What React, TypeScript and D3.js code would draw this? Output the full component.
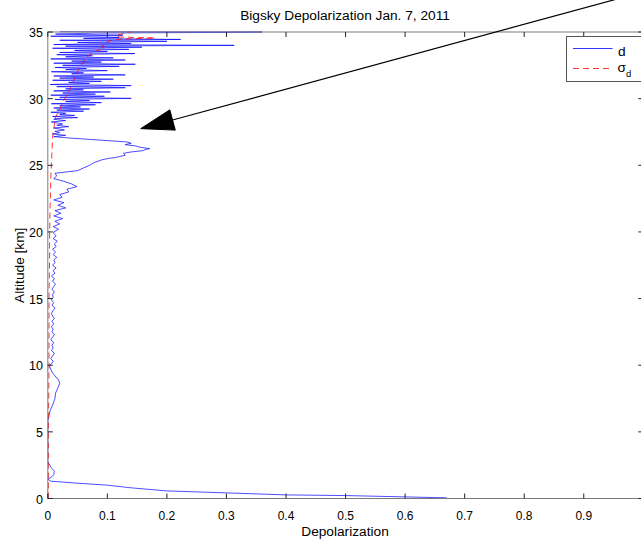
import React from "react";
import * as d3 from "d3";

const W = 641;
const H = 539;

const title = "Bigsky Depolarization Jan. 7, 2011";
const xLabel = "Depolarization";
const yLabel = "Altitude [km]";
const xTicks = [0, 0.1, 0.2, 0.3, 0.4, 0.5, 0.6, 0.7, 0.8, 0.9];
const xTickLabels = ["0", "0.1", "0.2", "0.3", "0.4", "0.5", "0.6", "0.7", "0.8", "0.9"];
const yTicks = [0, 5, 10, 15, 20, 25, 30, 35];
const legendLabels = ["d", "σ"];

// Blue profile d: altitude (km)
const dAlt = [
  0.05, 0.12, 0.22, 0.27, 0.42, 0.57, 0.8, 1.0, 1.15, 1.3, 1.45, 1.6, 1.8, 2.05, 2.3, 2.6, 2.8, 4.0, 5.8,
  6.2, 6.6, 7.0, 7.5, 7.9, 8.3, 8.65, 8.9, 9.2, 9.5, 9.8, 10.0,
  10.1, 10.3, 10.5, 10.7, 10.9, 11.1, 11.3, 11.5, 11.7, 11.9, 12.1, 12.3, 12.5, 12.7, 12.9, 13.1, 13.3, 13.5, 13.7, 13.9,
  14.1, 14.3, 14.5, 14.7, 14.9, 15.1, 15.3, 15.5, 15.7, 15.9, 16.1, 16.3, 16.5, 16.7, 16.9, 17.1, 17.3, 17.5, 17.7, 17.9,
  18.1, 18.3, 18.5, 18.7, 18.9, 19.1, 19.3, 19.5, 19.7, 19.9,
  20.0, 20.2, 20.4, 20.6, 20.8, 21.0, 21.2, 21.4, 21.6, 21.8, 22.0, 22.2, 22.4, 22.6, 22.8, 23.0, 23.2, 23.4, 23.6, 23.8, 24.0, 24.2, 24.4,
  24.6, 24.8, 25.0, 25.2, 25.4, 25.5, 25.6, 25.75, 25.9, 26.0, 26.1, 26.2, 26.25, 26.35, 26.45, 26.55, 26.65, 26.75,
  27.05, 27.15, 27.25, 27.35, 27.45, 27.55, 27.65, 27.8, 27.9, 28.0, 28.1, 28.25, 28.35, 28.45,
  28.5, 28.58, 28.66, 28.74, 28.82, 28.9, 28.98, 29.06, 29.14, 29.22, 29.3, 29.38, 29.46, 29.54, 29.62, 29.7, 29.78, 29.86, 29.94,
  30.02, 30.1, 30.18, 30.26, 30.34, 30.42, 30.5, 30.58, 30.66, 30.74, 30.82, 30.9, 30.98, 31.06, 31.14, 31.22, 31.3, 31.38, 31.46,
  31.54, 31.62, 31.7, 31.78, 31.86, 31.94, 32.02, 32.1, 32.18, 32.26, 32.34, 32.42, 32.5, 32.58, 32.66, 32.74, 32.82, 32.9, 32.98,
  33.06, 33.14, 33.22, 33.3, 33.38, 33.46, 33.54, 33.62, 33.7, 33.78, 33.86, 33.94, 34.0, 34.06, 34.14, 34.22, 34.3, 34.38, 34.44,
  34.52, 34.6, 34.68, 34.76, 34.84, 34.92, 34.97, 35.0, 35.02,
];
// Blue profile d: depolarization
const dVal = [
  0.67, 0.6, 0.5, 0.4, 0.3, 0.2, 0.14, 0.1, 0.05, 0.005, 0.0, 0.006, 0.01, 0.011, 0.006, 0.002, 0.0, 0.0, 0.0,
  0.002, 0.004, 0.008, 0.012, 0.013, 0.017, 0.02, 0.018, 0.012, 0.007, 0.004, 0.003,
  0.006, 0.009, 0.005, 0.008, 0.011, 0.006, 0.009, 0.007, 0.01, 0.005, 0.008, 0.011, 0.007, 0.009, 0.006, 0.01, 0.007, 0.011, 0.008, 0.006,
  0.009, 0.012, 0.007, 0.01, 0.006, 0.009, 0.008, 0.011, 0.007, 0.01, 0.013, 0.008, 0.011, 0.006, 0.012, 0.009, 0.014, 0.008, 0.012, 0.01,
  0.015, 0.009, 0.013, 0.008, 0.014, 0.011, 0.016, 0.009, 0.014, 0.01,
  0.01, 0.018, 0.009, 0.02, 0.012, 0.025, 0.01, 0.022, 0.012, 0.03, 0.017, 0.027, 0.01, 0.024, 0.02, 0.035, 0.032, 0.049, 0.04, 0.027, 0.01, 0.015, 0.012,
  0.05, 0.06, 0.07, 0.078, 0.09, 0.1, 0.115, 0.13, 0.127, 0.14, 0.16, 0.165, 0.171, 0.155, 0.148, 0.13, 0.14, 0.133,
  0.035, 0.01, 0.03, 0.008, 0.02, 0.012, 0.028, 0.01, 0.035, 0.015, 0.025, 0.006, 0.03, 0.01,
  0.012, 0.05, 0.008, 0.045, 0.02, 0.03, 0.005, 0.06, 0.015, 0.07, 0.01, 0.055, 0.02, 0.08, 0.006, 0.09, 0.03, 0.07, 0.012,
  0.14, 0.02, 0.095, 0.005, 0.08, 0.025, 0.105, 0.01, 0.06, 0.03, 0.13, 0.015, 0.14, 0.004, 0.07, 0.035, 0.09, 0.008, 0.11,
  0.02, 0.077, 0.01, 0.13, 0.04, 0.06, 0.006, 0.1, 0.03, 0.065, 0.012, 0.12, 0.025, 0.147, 0.01, 0.09, 0.04, 0.13, 0.005,
  0.11, 0.03, 0.075, 0.015, 0.146, 0.02, 0.1, 0.045, 0.136, 0.008, 0.158, 0.03, 0.313, 0.01, 0.14, 0.05, 0.2, 0.02, 0.223,
  0.06, 0.12, 0.005, 0.126, 0.013, 0.08, 0.29, 0.36, 0.02,
];

// Red sigma_d
const sAlt = [
  0, 2, 5, 10, 15, 18, 20, 22, 24, 25, 26, 27, 27.5, 28, 28.6, 29.2, 29.8, 30.2, 30.8, 31.4, 32.1, 32.5, 32.9,
  33.3, 33.6, 33.75, 33.9, 34.1, 34.3, 34.45, 34.55, 34.62, 34.75, 34.85, 34.95, 35.0,
];
const sVal = [
  0.001, 0.001, 0.001, 0.002, 0.002, 0.003, 0.003, 0.004, 0.005, 0.006, 0.007, 0.008, 0.009, 0.011, 0.013, 0.02, 0.026, 0.031, 0.038, 0.044, 0.051, 0.056, 0.062,
  0.07, 0.082, 0.095, 0.09, 0.098, 0.1, 0.115, 0.18, 0.12, 0.115, 0.125, 0.13, 0.14,
];

// Annotation arrow (data units)
const arrowTip = { x: 0.156, y: 27.75 };
const arrowTail = { x: 1.032, y: 38.4 };

export default function App() {
  const x = d3.scaleLinear().domain([0, 1]).range([47.8, 643.3]);
  const y = d3.scaleLinear().domain([0, 35]).range([498.5, 32]);
  const x0 = x(0), x1 = x(1), y0 = y(0), y1 = y(35);

  const line = d3
    .line<[number, number]>()
    .x((d) => x(d[1]))
    .y((d) => y(d[0]));

  const dPts: [number, number][] = dAlt.map((a, i) => [a, dVal[i]]);
  const sPts: [number, number][] = sAlt.map((a, i) => [a, sVal[i]]);

  // arrow
  const tx = x(arrowTip.x), ty = y(arrowTip.y);
  const ex = x(arrowTail.x), ey = y(arrowTail.y);
  const len = Math.hypot(ex - tx, ey - ty);
  const ux = (ex - tx) / len, uy = (ey - ty) / len;
  const hl = 33, hw = 10.5;
  const bx = tx + ux * hl, by = ty + uy * hl;
  const head = [
    [tx, ty],
    [bx - uy * hw, by + ux * hw],
    [bx + uy * hw, by - ux * hw],
  ]
    .map((p) => p.join(","))
    .join(" ");

  const font = "'Liberation Sans', Arial, Helvetica, sans-serif";
  const tickLen = 5;
  const xTickAll = [...xTicks, 1.0];

  return (
    <svg
      width={W}
      height={H}
      style={{ position: "absolute", left: 0, top: 0, background: "#fff" }}
      fontFamily={font}
    >
      <rect x={0} y={0} width={W} height={H} fill="#fff" />
      <defs>
        <clipPath id="plotclip">
          <rect x={x0} y={y1 - 1} width={x1 - x0} height={y0 - y1 + 1} />
        </clipPath>
      </defs>

      {/* data */}
      <g clipPath="url(#plotclip)">
        <path d={line(dPts) || ""} fill="none" stroke="#0000ff" strokeWidth={0.7} strokeLinejoin="round" />
        <path
          d={line(sPts) || ""}
          fill="none"
          stroke="#ff0000"
          strokeWidth={0.8}
          strokeDasharray="6,4"
        />
      </g>

      {/* frame */}
      <rect x={x0} y={y1} width={x1 - x0} height={y0 - y1} fill="none" stroke="#7a7a7a" strokeWidth={1} />

      {/* x ticks */}
      {xTickAll.map((t, i) => (
        <g key={"xt" + i}>
          <line x1={x(t)} x2={x(t)} y1={y0} y2={y0 - tickLen} stroke="#222" strokeWidth={1} />
          <line x1={x(t)} x2={x(t)} y1={y1} y2={y1 + tickLen} stroke="#222" strokeWidth={1} />
        </g>
      ))}
      {xTicks.map((t, i) => (
        <text key={"xl" + i} x={x(t)} y={519.5} fontSize={12} textAnchor="middle" fill="#000">
          {xTickLabels[i]}
        </text>
      ))}

      {/* y ticks */}
      {yTicks.map((t, i) => (
        <g key={"yt" + i}>
          <line x1={x0} x2={x0 + tickLen} y1={y(t)} y2={y(t)} stroke="#222" strokeWidth={1} />
          <line x1={x1} x2={x1 - tickLen} y1={y(t)} y2={y(t)} stroke="#222" strokeWidth={1} />
          <text x={43} y={y(t) + 5} fontSize={12.5} textAnchor="end" fill="#000">
            {t}
          </text>
        </g>
      ))}

      {/* labels */}
      <text x={345} y={20} fontSize={13.7} textAnchor="middle" fill="#000">
        {title}
      </text>
      <text x={345} y={536} fontSize={13.7} textAnchor="middle" fill="#000">
        {xLabel}
      </text>
      <text transform={`translate(23.5, ${(y0 + y1) / 2}) rotate(-90)`} fontSize={13.7} textAnchor="middle" fill="#000">
        {yLabel}
      </text>

      {/* legend */}
      <rect x={566.5} y={36.5} width={80} height={45} fill="#fff" stroke="#555" strokeWidth={1} />
      <line x1={573} x2={612.5} y1={48.5} y2={48.5} stroke="#0000ff" strokeWidth={0.8} />
      <text x={618} y={56} fontSize={13.7} fill="#000">
        {legendLabels[0]}
      </text>
      <line x1={573} x2={612.5} y1={68.5} y2={68.5} stroke="#ff0000" strokeWidth={0.8} strokeDasharray="6,4" />
      <text x={617.5} y={72} fontSize={13.7} fill="#000">
        {legendLabels[1]}
        <tspan fontSize={9.5} dy={5}>
          d
        </tspan>
      </text>

      {/* arrow annotation */}
      <line x1={bx} y1={by} x2={ex} y2={ey} stroke="#000" strokeWidth={1.2} />
      <polygon points={head} fill="#000" stroke="#000" strokeWidth={1} />
    </svg>
  );
}
